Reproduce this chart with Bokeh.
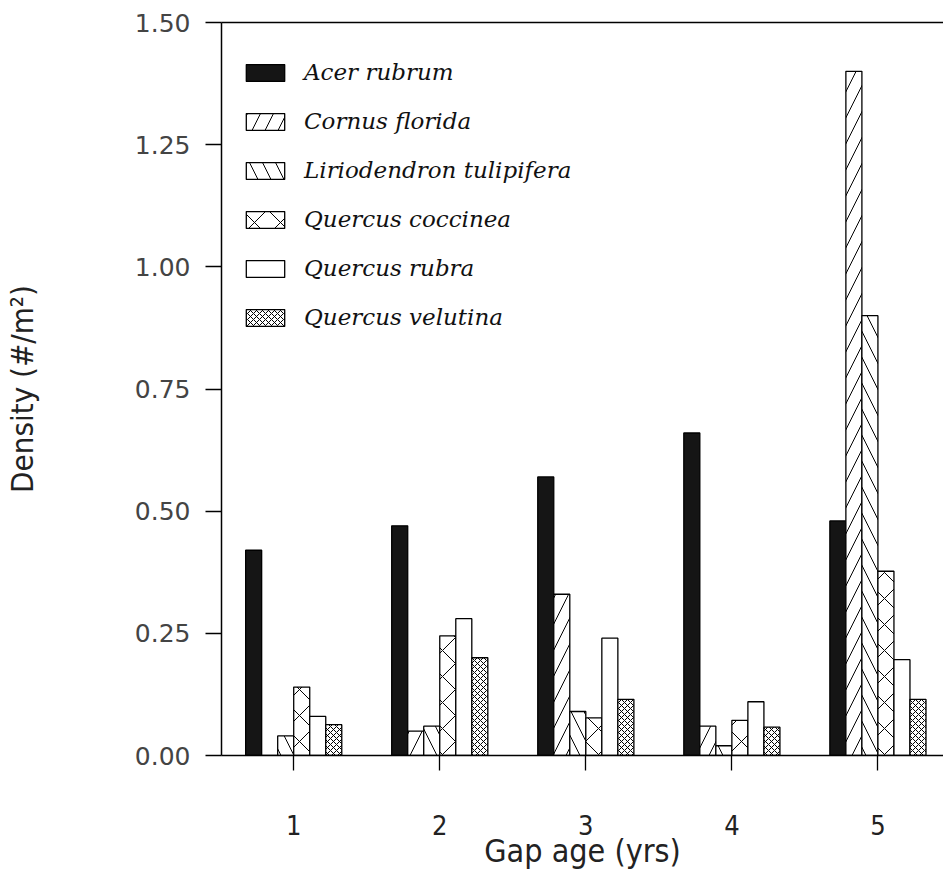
from bokeh.plotting import figure
from bokeh.models import ColumnDataSource, FixedTicker, LinearAxis, Range1d, PrintfTickFormatter, Legend, LegendItem
from bokeh.transform import dodge
from bokeh.embed import file_html
from bokeh.resources import INLINE

# ---- data ----
gap_age = [1, 2, 3, 4, 5]
acer_rubrum = [0.42, 0.47, 0.57, 0.66, 0.48]
cornus_florida = [0.0, 0.05, 0.33, 0.06, 1.40]
liriodendron_tulipifera = [0.04, 0.06, 0.09, 0.02, 0.90]
quercus_coccinea = [0.14, 0.245, 0.077, 0.072, 0.377]
quercus_rubra = [0.08, 0.28, 0.24, 0.11, 0.196]
quercus_velutina = [0.063, 0.20, 0.115, 0.058, 0.115]

species = ["Acer rubrum", "Cornus florida", "Liriodendron tulipifera",
           "Quercus coccinea", "Quercus rubra", "Quercus velutina"]
series = [acer_rubrum, cornus_florida, liriodendron_tulipifera,
          quercus_coccinea, quercus_rubra, quercus_velutina]
y_ticks = [0.0, 0.25, 0.5, 0.75, 1.0, 1.25, 1.5]

# ---- styles ----
styles = [
    dict(fill_color="#151515", hatch_pattern=None, hatch_scale=12),
    dict(fill_color="white", hatch_pattern="/", hatch_scale=26),
    dict(fill_color="white", hatch_pattern="\\", hatch_scale=26),
    dict(fill_color="white", hatch_pattern="x", hatch_scale=26),
    dict(fill_color="white", hatch_pattern=None, hatch_scale=12),
    dict(fill_color="white", hatch_pattern="x", hatch_scale=6),
]

src = ColumnDataSource(dict(age=gap_age, **{f"s{i}": s for i, s in enumerate(series)}))

LABEL_FONT = "DejaVu Sans Condensed, DejaVu Sans"

p = figure(width=943, height=876, output_backend="svg", toolbar_location=None,
           x_range=Range1d(0.5056, 5.449), y_range=Range1d(0, 1.5),
           min_border_left=217, min_border_right=0, min_border_top=22, min_border_bottom=121)
p.outline_line_color = None
p.grid.visible = False
p.background_fill_color = "white"

bar_w = 0.1097
items = []
for i, name in enumerate(species):
    st = styles[i]
    kw = dict(fill_color=st["fill_color"], line_color="black", line_width=1.3)
    if st["hatch_pattern"]:
        kw.update(hatch_pattern=st["hatch_pattern"], hatch_scale=st["hatch_scale"],
                  hatch_color="black", hatch_weight=1)
    r = p.vbar(x=dodge("age", (i - 2.5) * bar_w), top=f"s{i}", width=bar_w, bottom=0,
               source=src, **kw)
    items.append(LegendItem(label=name, renderers=[r]))

# axes
xa = p.xaxis[0]
xa.ticker = FixedTicker(ticks=gap_age)
xa.minor_tick_line_color = None
xa.major_tick_out = 15
xa.major_tick_in = 0
xa.axis_line_width = 1.5
xa.major_tick_line_width = 1.3
xa.major_label_text_font = LABEL_FONT
xa.major_label_text_font_size = "27px"
xa.major_label_text_color = "#222222"
xa.major_label_standoff = 44
xa.axis_label = "Gap age (yrs)"
xa.axis_label_text_font = LABEL_FONT
xa.axis_label_text_font_size = "32px"
xa.axis_label_text_font_style = "normal"
xa.axis_label_text_color = "#222222"
xa.axis_label_standoff = -6

ya = p.yaxis[0]
ya.ticker = FixedTicker(ticks=y_ticks)
ya.formatter = PrintfTickFormatter(format="%.2f")
ya.minor_tick_line_color = None
ya.major_tick_out = 16
ya.major_tick_in = 0
ya.axis_line_width = 1.5
ya.major_tick_line_width = 1.3
ya.major_label_text_font = "DejaVu Sans"
ya.major_label_text_font_size = "25px"
ya.major_label_text_color = "#444444"
ya.major_label_standoff = 15
ya.axis_label = "Density (#/m²)"
ya.axis_label_text_font = LABEL_FONT
ya.axis_label_text_font_size = "31px"
ya.axis_label_text_font_style = "normal"
ya.axis_label_text_color = "#222222"
ya.axis_label_standoff = 92

top = LinearAxis(ticker=FixedTicker(ticks=[]), major_label_text_font_size="0px",
                 major_tick_out=0, major_tick_in=0, minor_tick_line_color=None,
                 axis_line_width=1.5)
p.add_layout(top, "above")

legend = Legend(items=items, location=(20, 425), orientation="vertical",
                glyph_width=48, glyph_height=21, label_height=21, spacing=23,
                label_standoff=15, padding=0, margin=0,
                border_line_color=None, background_fill_alpha=0,
                label_text_font="DejaVu Serif", label_text_font_style="italic",
                label_text_font_size="23px", label_text_color="#111111")
p.add_layout(legend)

open("out.html", "w").write(file_html(p, INLINE))
